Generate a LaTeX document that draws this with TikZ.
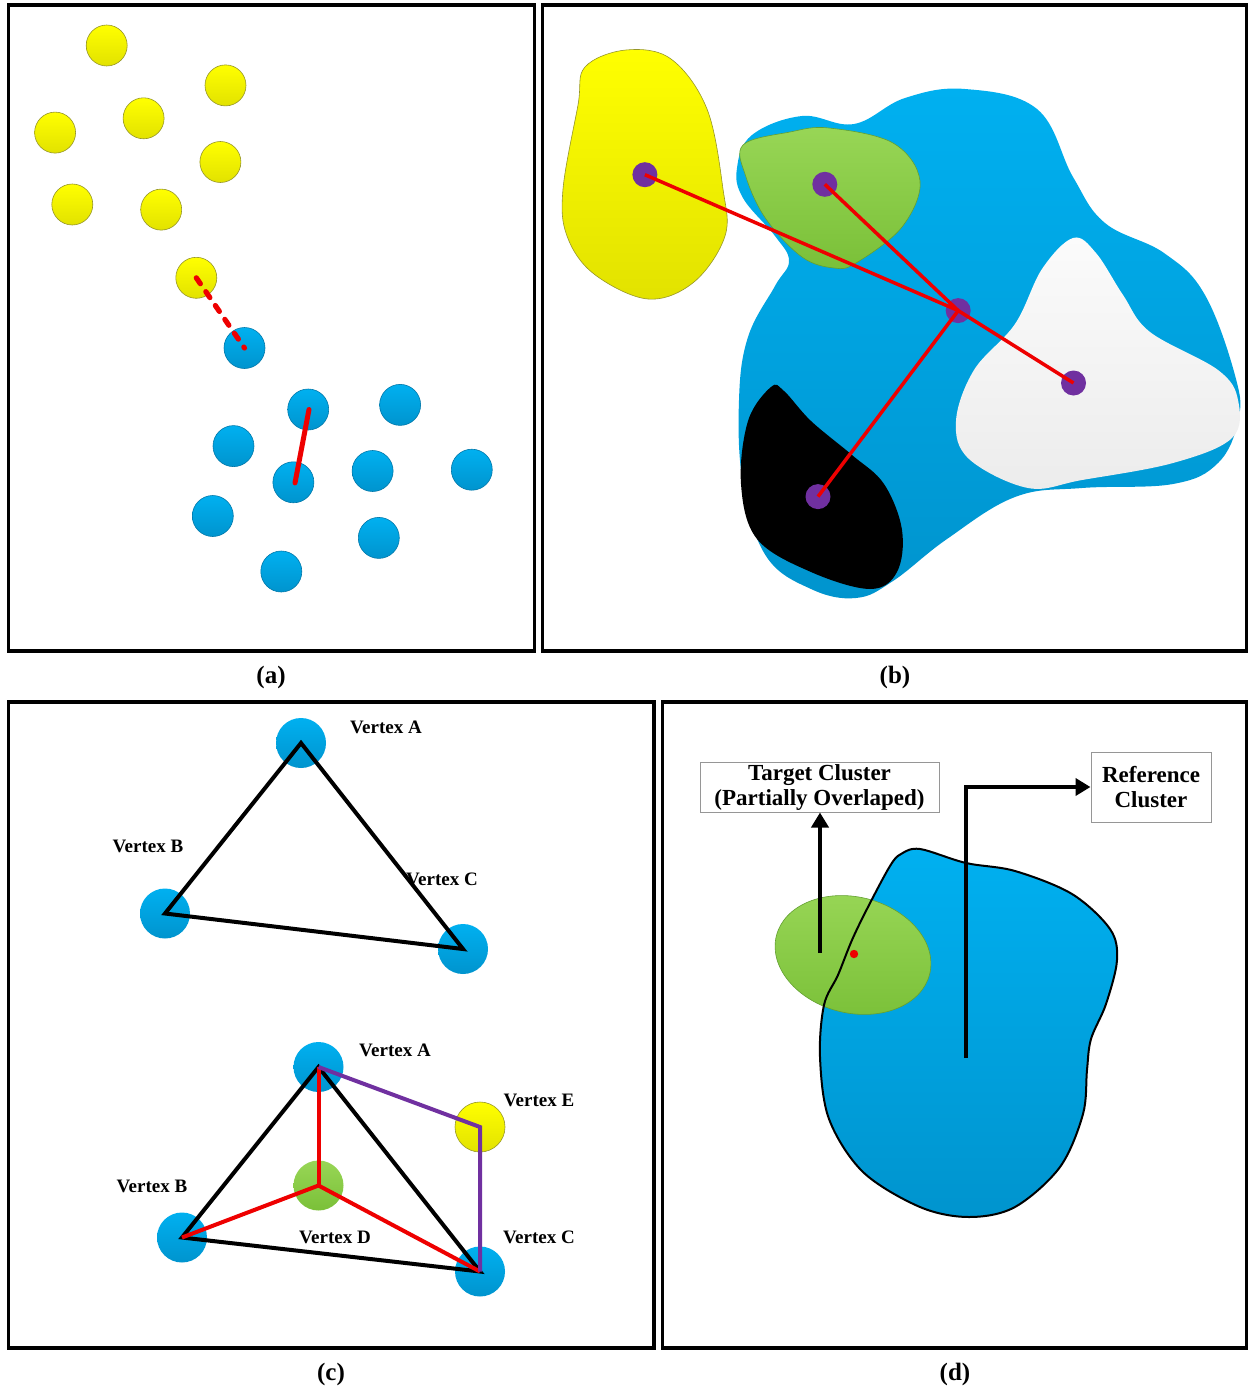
\documentclass[tikz,border=0pt]{standalone}
\usepackage{fontspec}
\setmainfont{Liberation Serif}
\usetikzlibrary{arrows.meta}

\definecolor{cyantop}{RGB}{0,176,240}
\definecolor{cyanbot}{RGB}{0,148,206}
\definecolor{cyanedge}{RGB}{0,120,170}
\definecolor{yeltop}{RGB}{255,255,0}
\definecolor{yelbot}{RGB}{226,226,0}
\definecolor{yeledge}{RGB}{150,150,40}
\definecolor{grntop}{RGB}{152,214,86}
\definecolor{grnbot}{RGB}{122,192,56}
\definecolor{grnedge}{RGB}{100,160,50}
\definecolor{purp}{RGB}{112,48,160}
\definecolor{linered}{RGB}{238,0,0}
\definecolor{whitetop}{RGB}{251,251,251}
\definecolor{whitebot}{RGB}{236,236,236}
\definecolor{boxedge}{RGB}{150,150,150}

\tikzset{
  frame/.style={draw=black, line width=1.75pt, line join=miter},
  ydot/.style={circle, inner sep=0pt, minimum size=20.5pt, top color=yeltop, bottom color=yelbot, draw=yeledge, line width=0.3pt},
  bdot/.style={circle, inner sep=0pt, minimum size=20.5pt, top color=cyantop, bottom color=cyanbot, draw=cyanedge, line width=0.3pt},
  bvert/.style={circle, inner sep=0pt, minimum size=25pt, top color=cyantop, bottom color=cyanbot},
  gvert/.style={circle, inner sep=0pt, minimum size=25pt, top color=grntop, bottom color=grnbot},
  yvert/.style={circle, inner sep=0pt, minimum size=25pt, top color=yeltop, bottom color=yelbot, draw=yeledge, line width=0.3pt},
  pdot/.style={circle, inner sep=0pt, minimum size=12.5pt, fill=purp},
  caption/.style={inner sep=0pt, font=\fontsize{12.5}{15}\selectfont\bfseries},
  vlabel/.style={inner sep=0pt, font=\fontsize{9.5}{11}\selectfont\bfseries},
  tag/.style={draw=boxedge, line width=0.5pt, align=center, inner sep=0pt, font=\fontsize{11.5}{12.5}\selectfont\bfseries},
  redlink/.style={draw=linered, line width=1.75pt},
  edge/.style={draw=black, line width=2pt, line join=miter},
  rededge/.style={draw=linered, line width=2pt, line join=miter},
  purpedge/.style={draw=purp, line width=2pt, line join=miter},
  pointer/.style={draw=black, line width=2pt, -{Triangle[length=7.5pt,width=8.5pt]}},
}

\begin{document}
\begin{tikzpicture}[x=0.5pt,y=-0.5pt]
\useasboundingbox (0,0) rectangle (1249,1387);
\fill[white] (0,0) rectangle (1249,1387);

% ---------- panel frames ----------
\draw[frame] (8.5,5) rectangle (534.5,651);
\draw[frame] (542.5,5) rectangle (1246.5,651);
\draw[frame] (8.5,702) rectangle (654,1348);
\draw[frame] (662.5,702) rectangle (1246.5,1348);

\node[caption] (capa) at (271,677) {(a)};
\node[caption] (capb) at (895,677) {(b)};
\node[caption] (capc) at (331,1374) {(c)};
\node[caption] (capd) at (955,1374) {(d)};

% ---------- (a) two point clouds ----------
\node[ydot] (y1) at (106.7,45.5) {};
\node[ydot] (y2) at (225.5,85.4) {};
\node[ydot] (y3) at (143.6,118.3) {};
\node[ydot] (y4) at (55.1,132.6) {};
\node[ydot] (y5) at (220.4,162) {};
\node[ydot] (y6) at (72.3,204.5) {};
\node[ydot] (y7) at (161.2,209.6) {};
\node[ydot] (y8) at (196.3,277.8) {};
\node[bdot] (b1) at (244.5,348) {};
\node[bdot] (b2) at (308.2,409.5) {};
\node[bdot] (b3) at (400.1,404.9) {};
\node[bdot] (b4) at (233.5,446.1) {};
\node[bdot] (b5) at (372.6,471) {};
\node[bdot] (b6) at (471.8,469.7) {};
\node[bdot] (b7) at (293.4,482.3) {};
\node[bdot] (b8) at (212.8,516) {};
\node[bdot] (b9) at (378.8,537.9) {};
\node[bdot] (b10) at (281.3,571.5) {};

\draw[draw=linered, line width=2.6pt, line cap=round, dash pattern=on 3.6pt off 4.8pt]
  (y8.center) -- (b1.center);
\draw[draw=linered, line width=2.5pt, line cap=round]
  ([xshift=0.4pt]b2.center) -- ([xshift=0.8pt,yshift=-0.3pt]b7.center);

% ---------- (b) nested clusters ----------
\path[top color=cyantop, bottom color=cyanbot]
  plot[smooth cycle, tension=0.65] coordinates {
  (854,124) (905,98) (965,89) (1037,109) (1073,177) (1105,223) (1164,253)
  (1205,295) (1236,379) (1238,421) (1218,463) (1173,484) (1082,488)
  (1015,497) (947,539) (893,581) (856,598) (811,589) (766,556) (743,484)
  (739,400) (748,337) (775,286) (789,261) (775,236) (743,198) (737,168)
  (752,135) (802,116)};
\path[top color=grntop, bottom color=grnbot, draw=grnedge, line width=0.3pt]
  plot[smooth cycle, tension=0.6] coordinates {
  (743,145) (790,132) (829,128) (893,143) (920,181) (902,227) (856,263)
  (834,268) (802,257) (766,219) (746,177)};
\path[top color=yeltop, bottom color=yelbot, draw=yeledge, line width=0.3pt]
  plot[smooth cycle, tension=0.6] coordinates {
  (626,50) (671,59) (707,109) (723,189) (725,236) (694,282) (648,299)
  (594,274) (567,236) (563,189) (578,105) (585,67)};
\path[top color=whitetop, bottom color=whitebot]
  plot[smooth cycle, tension=0.6] coordinates {
  (1073,238) (1042,269) (1015,324) (974,370) (956,421) (969,459)
  (1028,488) (1082,480) (1173,463) (1232,438) (1238,400) (1218,370)
  (1150,332) (1123,295) (1096,253)};
\fill[black]
  plot[smooth cycle, tension=0.6] coordinates {
  (771,387) (748,421) (741,484) (757,539) (811,572) (870,589) (897,572)
  (902,530) (884,484) (852,455) (811,421) (784,391)};

\node[pdot] (p1) at (644.9,174.7) {};
\node[pdot] (p2) at (824.8,184.3) {};
\node[pdot] (p3) at (958.2,310.6) {};
\node[pdot] (p4) at (1073.5,383) {};
\node[pdot] (p5) at (818,496.6) {};
\draw[redlink] (p1.center) -- (p3.center) -- (p4.center);
\draw[redlink] (p2.center) -- (p3.center);
\draw[redlink] (p3.center) -- (p5.center);

% ---------- (c) triangles ----------
\node[bvert] (tA) at (301,743) {};
\node[bvert] (tB) at (165,913.5) {};
\node[bvert] (tC) at (463,949) {};
\draw[edge] (tA.center) -- (tB.center) -- (tC.center) -- cycle;
\node[vlabel] (ltA) at (386,727) {Vertex A};
\node[vlabel] (ltB) at (148,846) {Vertex B};
\node[vlabel] (ltC) at (442,879) {Vertex C};

\node[bvert] (qA) at (318.5,1067) {};
\node[bvert] (qB) at (182,1237.5) {};
\node[bvert] (qC) at (480,1271.5) {};
\node[gvert] (qD) at (318.5,1185.5) {};
\node[yvert] (qE) at (480,1127) {};
\draw[edge] (qA.center) -- (qB.center) -- (qC.center) -- cycle;
\draw[rededge] (qA.center) -- (qD.center);
\draw[rededge] (qD.center) -- (qB.center);
\draw[rededge] (qD.center) -- (qC.center);
\draw[purpedge] (qA.center) -- (qE.center) -- (qC.center);
\node[vlabel] (lqA) at (395,1050) {Vertex A};
\node[vlabel] (lqE) at (539,1100) {Vertex E};
\node[vlabel] (lqB) at (152,1186) {Vertex B};
\node[vlabel] (lqD) at (335,1237) {Vertex D};
\node[vlabel] (lqC) at (539,1237) {Vertex C};

% ---------- (d) partial overlap ----------
\def\refblob{plot[smooth cycle, tension=0.55] coordinates {
  (901,854) (920,849) (966,863) (1015,871) (1072,894) (1110,929)
  (1117,960) (1106,1004) (1091,1039) (1087,1070) (1083,1114) (1060,1167)
  (1015,1207) (969,1217) (920,1207) (863,1172) (829,1119) (820,1057)
  (824,1005) (838,975) (852,940) (868,907) (890,866)}}
\path[top color=cyantop, bottom color=cyanbot] \refblob;
\path[top color=grntop, bottom color=grnbot, draw=grnedge, line width=0.3pt,
      rotate around={-14:(853,955)}]
  (853,955) ellipse[x radius=79, y radius=58];
\draw[black, line width=1pt] \refblob;
\fill[linered] (854,954) circle[radius=4.2];

\node[tag, minimum width=119.5pt, minimum height=25pt] (tgt) at (819.5,787)
  {Target Cluster\\(Partially Overlaped)};
\node[tag, minimum width=60pt, minimum height=35pt] (ref) at (1151,787)
  {Reference\\Cluster};
\coordinate (tstart) at (820,953);
\coordinate (rstart) at (966,1058);
\draw[pointer] (tstart) -- (tstart |- tgt.south);
\draw[pointer, line join=miter] (rstart) |- (ref.west);

\end{tikzpicture}
\end{document}
